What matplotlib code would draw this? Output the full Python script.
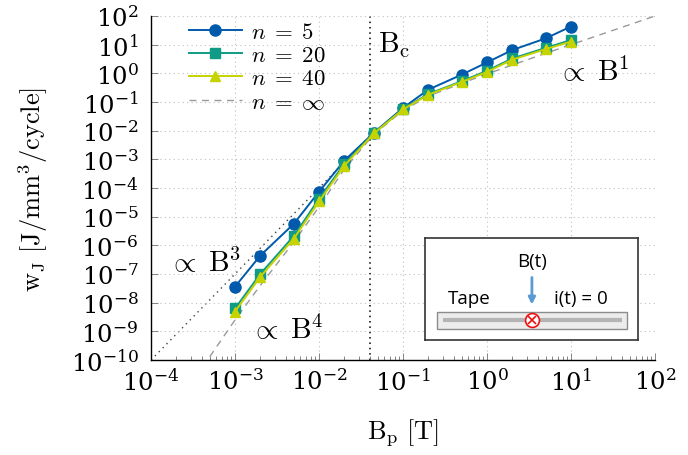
import matplotlib
matplotlib.use("Agg")
from matplotlib import pyplot as plt
import numpy as np

plt.rcParams['mathtext.fontset'] = 'cm'
plt.rcParams['font.family'] = 'serif'
plt.rcParams['font.serif'] = ['DejaVu Serif']

# data
b_p = [1e-3, 2e-3, 5e-3, 1e-2, 2e-2, 4.5e-2, 0.1, 0.2, 0.5, 1.0, 2.0, 5.0, 10.0]
w_n5 = [3.6e-8, 4.4e-7, 5.6e-6, 7.4e-5, 9.0e-4, 8.5e-3, 0.062, 0.27, 0.9, 2.4, 6.5, 16.6, 43.0]
w_n20 = [6.3e-9, 1.0e-7, 2.1e-6, 4.2e-5, 6.9e-4, 8.2e-3, 0.057, 0.19, 0.53, 1.23, 3.3, 7.7, 14.5]
w_n40 = [4.9e-9, 8.0e-8, 1.7e-6, 3.4e-5, 6.0e-4, 8.0e-3, 0.055, 0.18, 0.5, 1.12, 3.0, 7.0, 12.8]

b_inf = [5e-4, 1e-3, 2e-3, 5e-3, 1e-2, 2e-2, 4.5e-2, 0.1, 0.2, 0.5, 1.0, 2.0, 5.0, 10.0, 100.0]
w_inf = [1.3e-10, 2.5e-9, 4.0e-8, 1.3e-6, 2.2e-5, 4.5e-4, 7.5e-3, 0.05, 0.16, 0.45, 0.95, 1.95, 5.0, 10.0, 100.0]

b_cube = [1e-4, 4e-2]
w_cube = [1e-10, 6.4e-3]
b_c = 0.04

labels = [r'$n\;=\;5$', r'$n\;=\;20$', r'$n\;=\;40$', r'$n\;=\;\infty$']
colors = ['#005aab', '#0f9b86', '#c6d300']

fig = plt.figure(figsize=(6.88, 4.56), dpi=100)
ax = fig.add_axes([0.2195, 0.2083, 0.7325, 0.7544])

ax.plot(b_cube, w_cube, ls=(0, (1, 3)), color='0.25', lw=1.0, zorder=1)
ax.axvline(b_c, ls=(0, (1, 2.5)), color='k', lw=1.1, zorder=1)
ax.plot(b_inf, w_inf, ls=(0, (5, 4)), color='0.6', lw=1.0, zorder=2, label=labels[3])
ax.plot(b_p, w_n5, '-o', color=colors[0], ms=8, lw=1.4, zorder=3, label=labels[0])
ax.plot(b_p, w_n20, '-s', color=colors[1], ms=6.5, lw=1.4, zorder=4, label=labels[1])
ax.plot(b_p, w_n40, '-^', color=colors[2], ms=7.5, lw=1.4, zorder=5, label=labels[2])

ax.set_xscale('log')
ax.set_yscale('log')
ax.set_xlim(1e-4, 1e2)
ax.set_ylim(1e-10, 1e2)
ax.set_xticks([10.0 ** k for k in range(-4, 3)])
ax.set_yticks([10.0 ** k for k in range(-10, 3)])
ax.grid(True, which='major', ls=(0, (1, 3)), color='0.75', lw=0.8)
for s in ['top', 'right']:
    ax.spines[s].set_visible(False)
for s in ['left', 'bottom']:
    ax.spines[s].set_linewidth(1.0)
ax.tick_params(which='both', direction='in', color='0.45', width=0.6, labelsize=17.5)
ax.tick_params(which='major', length=5)
ax.tick_params(which='minor', length=3)
ax.tick_params(axis='x', pad=6)
ax.tick_params(axis='y', pad=9)

ax.set_xlabel(r'$\mathrm{B_p}\ [\mathrm{T}]$', fontsize=19, labelpad=16)
ax.set_ylabel(r'$\mathrm{w_J}\ [\mathrm{J/mm^3/cycle}]$', fontsize=19, labelpad=15)

h, l = ax.get_legend_handles_labels()
order = [1, 2, 3, 0]
ax.legend([h[i] for i in order], [l[i] for i in order], loc='upper left',
          bbox_to_anchor=(0.075, 0.985), frameon=False, fontsize=16.5,
          handlelength=2.3, handletextpad=0.4, labelspacing=0.05,
          borderpad=0, borderaxespad=0)

ax.text(0.05, 10, r'$\mathrm{B_c}$', fontsize=21, ha='left', va='center')
ax.text(6.8, 1.2, r'$\propto\;\mathrm{B}^1$', fontsize=21, ha='left', va='center')
ax.text(1.6e-4, 2.6e-7, r'$\propto\;\mathrm{B}^3$', fontsize=21, ha='left', va='center')
ax.text(1.5e-3, 1.2e-9, r'$\propto\;\mathrm{B}^4$', fontsize=21, ha='left', va='center')

# inset sketch
ins = fig.add_axes([0.6177, 0.2522, 0.3096, 0.2237])
ins.set_xlim(0, 1)
ins.set_ylim(0, 1)
ins.set_xticks([])
ins.set_yticks([])
ins.set_facecolor('white')
for s in ins.spines.values():
    s.set_linewidth(1.2)
    s.set_color('0.2')
ins.add_patch(plt.Rectangle((0.056, 0.108), 0.892, 0.167, facecolor='#ececec',
                            edgecolor='0.55', lw=1.0))
ins.plot([0.085, 0.925], [0.196, 0.196], color='#b4b4b4', lw=3, solid_capstyle='butt')
ins.plot([0.502], [0.196], 'o', mfc='white', mec='#ee1111', ms=10, mew=1.2)
ins.plot([0.502], [0.196], 'x', color='#ee1111', ms=6, mew=1.2)
ins.annotate('', xy=(0.502, 0.32), xytext=(0.502, 0.64),
             arrowprops=dict(arrowstyle='-|>', color='#5b9bd5', lw=2, mutation_scale=10))
ins.text(0.502, 0.775, 'B(t)', fontsize=13.5, family='Open Sans', ha='center', va='center')
ins.text(0.207, 0.41, 'Tape', fontsize=13.5, family='Open Sans', ha='center', va='center')
ins.text(0.732, 0.41, 'i(t) = 0', fontsize=13.5, family='Open Sans', ha='center', va='center')

fig.savefig('out.png', dpi=100)
